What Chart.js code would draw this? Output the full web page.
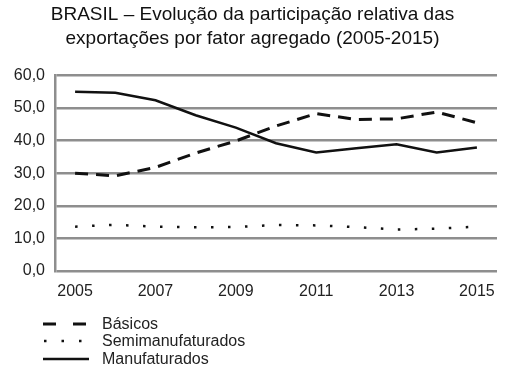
<!DOCTYPE html>
<html><head><meta charset="utf-8">
<script src="https://cdn.jsdelivr.net/npm/chart.js@4/dist/chart.umd.min.js"></script>
<style>html,body{margin:0;padding:0;background:#fff;}#wrap{width:527px;height:381px;position:relative;}</style>
</head><body><div id="wrap"><canvas id="c" width="527" height="381"></canvas></div>
<script>
const titleLines = ["BRASIL – Evolução da participação relativa das", "exportações por fator agregado (2005-2015)"];
const years = ["2005","2006","2007","2008","2009","2010","2011","2012","2013","2014","2015"];
const basicos = [30.0, 29.2, 31.8, 36.2, 39.9, 44.5, 48.3, 46.5, 46.7, 48.8, 45.5];
const semimanufaturados = [13.6, 14.2, 13.6, 13.4, 13.5, 14.1, 14.0, 13.5, 12.7, 13.0, 13.6];
const manufaturados = [55.0, 54.7, 52.4, 47.8, 44.0, 39.2, 36.4, 37.7, 38.9, 36.4, 37.9];
const yTicks = [0, 10, 20, 30, 40, 50, 60];
const seriesNames = ["Básicos", "Semimanufaturados", "Manufaturados"];

const FONT = "'Liberation Sans', Arial, sans-serif";
const GRID = "#8e8e8e";

const legendPlugin = {
  id: 'customLegend',
  afterDraw(chart) {
    const ctx = chart.ctx;
    const rows = [324, 341, 359];
    ctx.save();
    chart.data.datasets.forEach((ds, i) => {
      const y = rows[i];
      ctx.beginPath();
      ctx.strokeStyle = ds.borderColor;
      ctx.lineWidth = ds.borderWidth;
      ctx.lineCap = 'butt';
      if (i === 0) ctx.setLineDash([13, 17]);
      else if (i === 1) ctx.setLineDash([2.5, 15]);
      else ctx.setLineDash([]);
      ctx.moveTo(i === 1 ? 44 : 43, y);
      ctx.lineTo(i === 2 ? 89 : 86, y);
      ctx.stroke();
      ctx.setLineDash([]);
      ctx.fillStyle = '#222';
      ctx.font = '16px ' + FONT;
      ctx.textBaseline = 'middle';
      ctx.textAlign = 'left';
      ctx.fillText(ds.label, 102, y + 1);
    });
    ctx.restore();
  }
};

new Chart(document.getElementById('c'), {
  type: 'line',
  data: {
    labels: years,
    datasets: [
      { label: seriesNames[0], data: basicos, borderColor: '#111', borderWidth: 3, borderDash: [13, 8], pointRadius: 0, tension: 0, fill: false },
      { label: seriesNames[1], data: semimanufaturados, borderColor: '#111', borderWidth: 2.5, borderDash: [2.5, 14.5], borderCapStyle: 'butt', pointRadius: 0, tension: 0, fill: false },
      { label: seriesNames[2], data: manufaturados, borderColor: '#111', borderWidth: 2.5, pointRadius: 0, tension: 0, fill: false }
    ]
  },
  options: {
    responsive: false,
    animation: false,
    devicePixelRatio: 1,
    layout: { padding: { top: 0, left: 8, right: 30, bottom: 80 } },
    plugins: {
      legend: { display: false },
      tooltip: { enabled: false },
      title: {
        display: true,
        text: titleLines,
        color: '#111',
        font: { family: FONT, size: 19, weight: 'normal', lineHeight: 1.25 },
        padding: { top: 3, bottom: 25 }
      }
    },
    scales: {
      x: {
        offset: true,
        grid: { display: false },
        border: { display: false },
        ticks: {
          autoSkip: false,
          maxRotation: 0,
          color: '#222',
          font: { family: FONT, size: 16 },
          padding: 3,
          callback: function(v, i) { return i % 2 === 0 ? years[i] : ''; }
        },
        afterFit: s => { s.height = 30; }
      },
      y: {
        min: 0, max: 60,
        afterBuildTicks: s => { s.ticks = yTicks.map(v => ({ value: v })); },
        grid: { color: GRID, lineWidth: 2.5, drawTicks: false },
        border: { display: true, color: GRID, width: 2.5 },
        ticks: {
          color: '#222',
          font: { family: FONT, size: 16 },
          padding: 10,
          callback: v => v.toFixed(1).replace('.', ',')
        },
        afterFit: s => { s.width = 47; }
      }
    }
  },
  plugins: [legendPlugin]
});
</script></body></html>
